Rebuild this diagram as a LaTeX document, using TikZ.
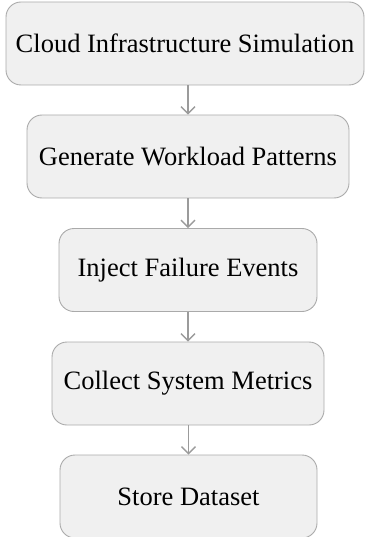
\documentclass[tikz,border=0pt]{standalone}
\usepackage{fontspec}
\setmainfont{Liberation Serif}
\usetikzlibrary{arrows.meta}
\definecolor{boxfill}{RGB}{240,240,240}
\definecolor{boxdraw}{RGB}{170,170,170}
\definecolor{arrowgray}{RGB}{155,155,155}
\tikzset{
  stepbox/.style={draw=boxdraw, fill=boxfill, line width=0.9pt, rounded corners=15pt,
    minimum height=83pt, inner sep=0pt, font=\fontsize{26.5}{32}\selectfont, text=black},
  flow/.style={draw=arrowgray, line width=1.4pt, -{Straight Barb[length=7pt,width=14pt,line width=1.4pt]}}
}
\begin{document}
\begin{tikzpicture}[x=1pt,y=-1pt]
\useasboundingbox (0,0) rectangle (366,537);
\node[stepbox, minimum width=358pt] (a) at (185,43.5) {Cloud Infrastructure Simulation};
\node[stepbox, minimum width=322pt] (b) at (188,156.5) {Generate Workload Patterns};
\node[stepbox, minimum width=258pt] (c) at (188,270) {Inject Failure Events};
\node[stepbox, minimum width=272pt] (d) at (188,383.5) {Collect System Metrics};
\node[stepbox, minimum width=257pt] (e) at (188.5,496.5) {Store Dataset};
\draw[flow] (a.south -| b.north) -- (b.north);
\draw[flow] (b) -- (c);
\draw[flow] (c) -- (d);
\draw[flow] (d.south -| e.north) -- (e.north);
\end{tikzpicture}
\end{document}
